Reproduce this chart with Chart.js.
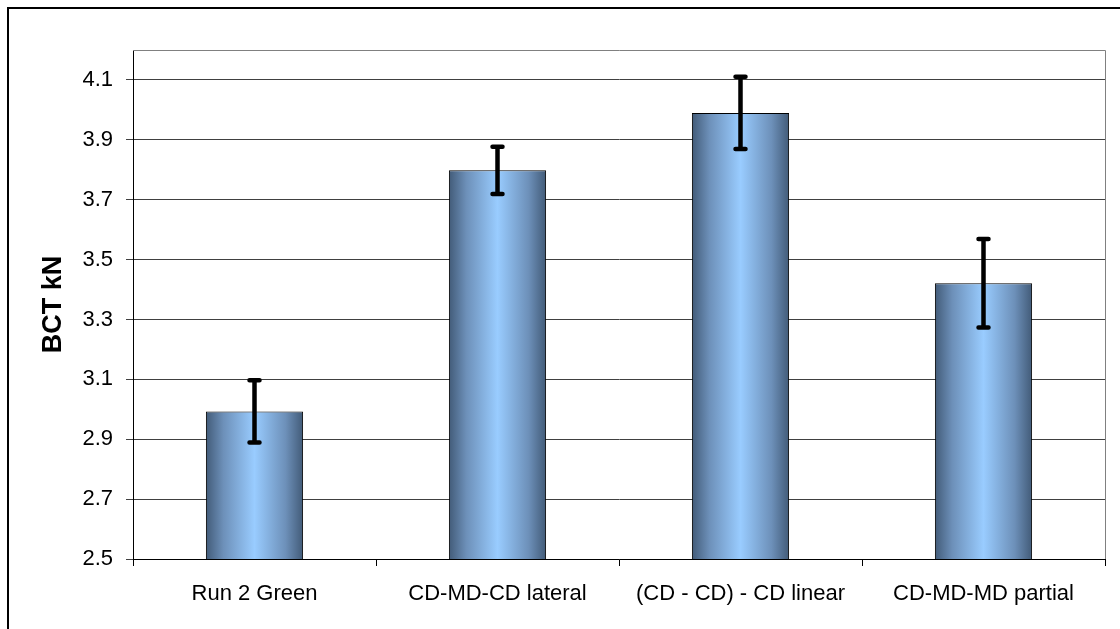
<!DOCTYPE html>
<html>
<head>
<meta charset="utf-8">
<script src="https://cdn.jsdelivr.net/npm/chart.js@4/dist/chart.umd.min.js"></script>
<style>
    html, body { margin: 0; padding: 0; background: #fff; }
    #wrap { width: 1120px; height: 629px; position: relative; }
</style>
</head>
<body>
<div id="wrap"><canvas id="bctChart" width="1120" height="629"></canvas></div>
<script>
// Chart data
const categories = ['Run 2 Green', 'CD-MD-CD lateral', '(CD - CD) - CD linear', 'CD-MD-MD partial'];
const bctValues = [2.993, 3.798, 3.990, 3.421];
const bctErrors = [0.104, 0.079, 0.121, 0.148];
const yTicks = [2.5, 2.7, 2.9, 3.1, 3.3, 3.5, 3.7, 3.9, 4.1];

const FONT = 'Liberation Sans, Arial, sans-serif';

// horizontal gradient per bar, like the old Excel fill
const barGradient = (context) => {
    const chart = context.chart;
    const area = chart.chartArea;
    if (!area) return '#99ccff';
    const x = chart.scales.x.getPixelForValue(context.dataIndex);
    const w = (area.width / categories.length) * 0.4;
    const g = chart.ctx.createLinearGradient(x - w / 2, 0, x + w / 2, 0);
    g.addColorStop(0, '#425b78');
    g.addColorStop(0.18, '#6d90b9');
    g.addColorStop(0.5, '#99ccff');
    g.addColorStop(0.82, '#6d90b9');
    g.addColorStop(1, '#425b78');
    return g;
};

// outer frame + plot area border
const framePlugin = {
    id: 'frame',
    beforeDraw(chart) {
        const ctx = chart.ctx;
        ctx.save();
        ctx.fillStyle = '#fff';
        ctx.fillRect(0, 0, chart.width, chart.height);
        ctx.strokeStyle = '#000';
        ctx.lineWidth = 2;
        ctx.strokeRect(8, 8, chart.width + 20, chart.height + 20);
        ctx.restore();
    },
    afterDraw(chart) {
        const { ctx, chartArea } = chart;
        ctx.save();
        ctx.strokeStyle = '#808080';
        ctx.lineWidth = 1;
        ctx.beginPath();
        ctx.moveTo(chartArea.left, chartArea.top + 0.5);
        ctx.lineTo(chartArea.right + 0.5, chartArea.top + 0.5);
        ctx.lineTo(chartArea.right + 0.5, chartArea.bottom);
        ctx.stroke();
        ctx.restore();
    }
};

// error bars drawn from the scales
const errorBarPlugin = {
    id: 'errorBars',
    afterDatasetsDraw(chart) {
        const ctx = chart.ctx;
        const yScale = chart.scales.y;
        const meta = chart.getDatasetMeta(0);
        ctx.save();
        ctx.strokeStyle = '#000';
        ctx.lineWidth = 4.5;
        ctx.lineCap = 'round';
        meta.data.forEach((bar, i) => {
            const x = bar.x;
            const top = yScale.getPixelForValue(bctValues[i] + bctErrors[i]);
            const bottom = yScale.getPixelForValue(bctValues[i] - bctErrors[i]);
            ctx.beginPath();
            ctx.moveTo(x, top);
            ctx.lineTo(x, bottom);
            ctx.moveTo(x - 5, top);
            ctx.lineTo(x + 5, top);
            ctx.moveTo(x - 5, bottom);
            ctx.lineTo(x + 5, bottom);
            ctx.stroke();
        });
        ctx.restore();
    }
};

document.addEventListener('DOMContentLoaded', () => {
    const ctx = document.getElementById('bctChart').getContext('2d');
    new Chart(ctx, {
        type: 'bar',
        data: {
            labels: categories,
            datasets: [{
                label: 'BCT',
                data: bctValues,
                backgroundColor: barGradient,
                borderColor: '#000',
                borderWidth: 1,
                borderSkipped: false,
                barPercentage: 0.4,
                categoryPercentage: 1.0
            }]
        },
        options: {
            responsive: false,
            animation: false,
            devicePixelRatio: 1,
            layout: {
                padding: { left: 0, top: 50, right: 15, bottom: 0 }
            },
            plugins: {
                legend: { display: false },
                tooltip: { enabled: false }
            },
            scales: {
                x: {
                    afterFit: (scale) => { scale.height = 70; },
                    grid: {
                        drawOnChartArea: false,
                        drawTicks: true,
                        tickLength: 7,
                        offset: true,
                        color: '#000'
                    },
                    border: { color: '#000', width: 1 },
                    ticks: {
                        color: '#000',
                        padding: 15,
                        maxRotation: 0,
                        autoSkip: false,
                        font: { family: FONT, size: 22 }
                    }
                },
                y: {
                    min: 2.5,
                    max: 4.2,
                    afterFit: (scale) => { scale.width = 133; },
                    afterBuildTicks: (scale) => {
                        scale.ticks = yTicks.map(v => ({ value: v }));
                    },
                    grid: {
                        color: '#404040',
                        lineWidth: 1,
                        tickLength: 7
                    },
                    border: { color: '#000', width: 1 },
                    ticks: {
                        color: '#000',
                        padding: 13,
                        font: { family: FONT, size: 22 },
                        callback: (value) => Number(value).toFixed(1)
                    },
                    title: {
                        display: true,
                        text: 'BCT kN',
                        color: '#000',
                        padding: { top: 37, bottom: 0 },
                        font: { family: FONT, size: 27, weight: 'bold' }
                    }
                }
            }
        },
        plugins: [framePlugin, errorBarPlugin]
    });
});
</script>
</body>
</html>
